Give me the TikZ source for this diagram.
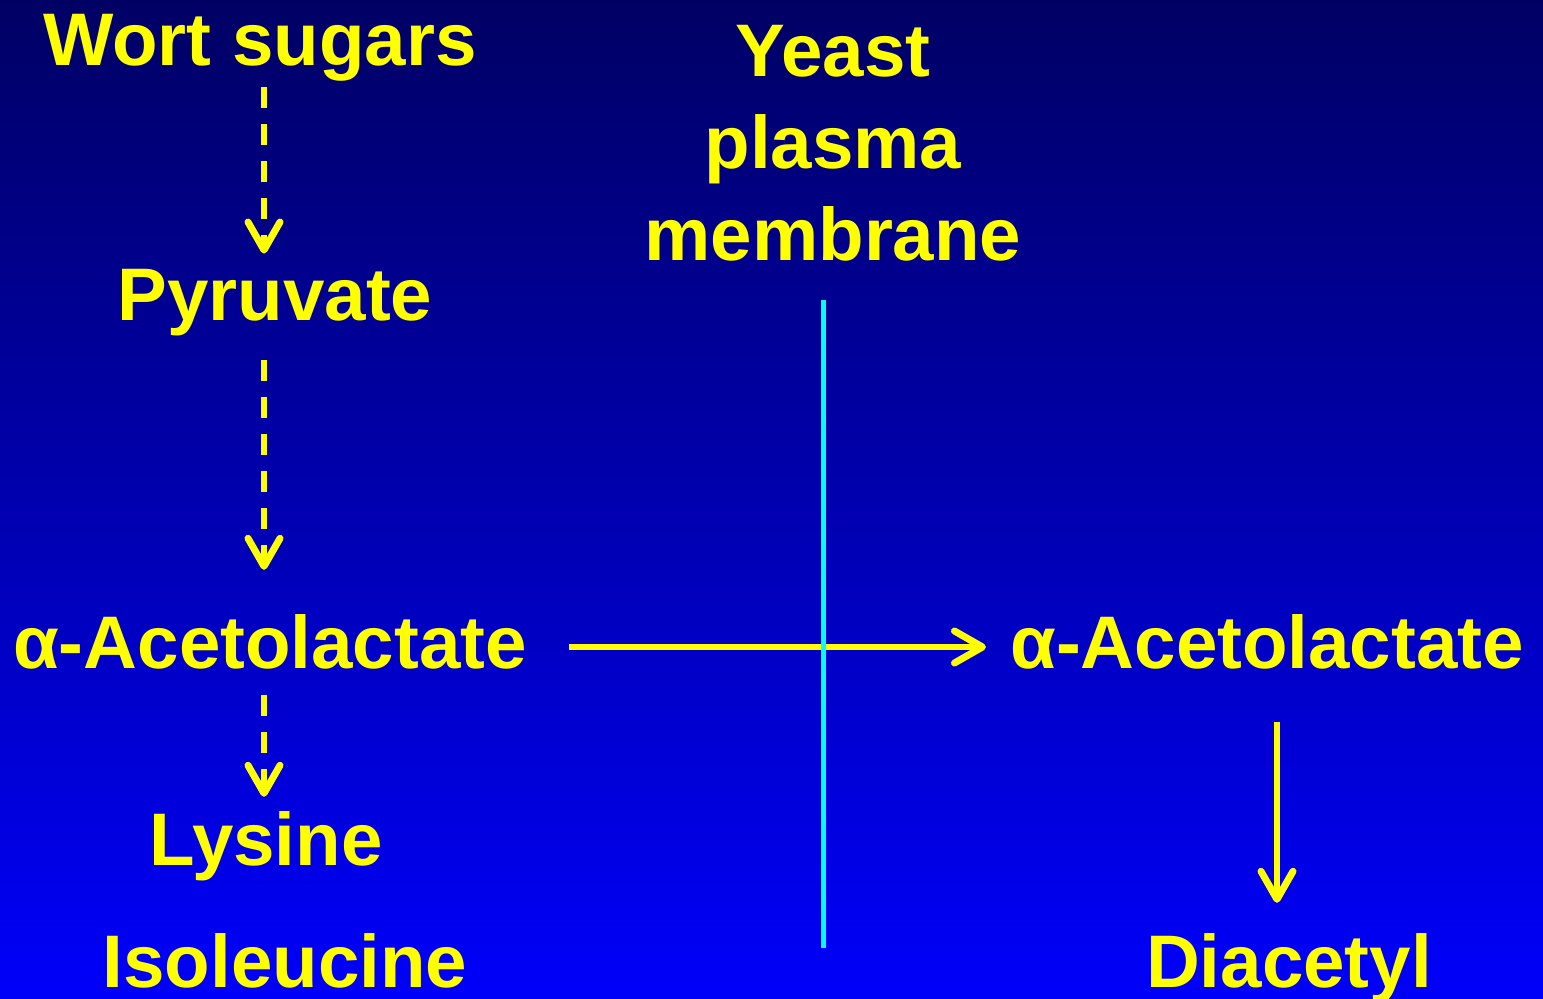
\documentclass[tikz,border=0pt]{standalone}
\usepackage{fontspec}
\setmainfont{Liberation Sans}
\usetikzlibrary{arrows.meta}
\definecolor{txtY}{RGB}{255,255,0}
\definecolor{memC}{RGB}{0,255,255}
\definecolor{bgTop}{RGB}{0,0,100}
\definecolor{bgBot}{RGB}{0,0,250}
\begin{document}
\begin{tikzpicture}[x=1pt,y=-1pt,
  lbl/.style={text=txtY,font=\fontsize{74.5}{92}\selectfont\bfseries,inner sep=0pt,anchor=base},
  conn/.style={draw=txtY,line width=5.5pt,-{Straight Barb[length=28pt,width=32pt,line width=7pt,round]}},
  dashconn/.style={conn,dash pattern=on 21pt off 16pt},
  memline/.style={draw=memC,line width=5pt}
]
\shade[top color=bgTop,bottom color=bgBot] (0,0) rectangle (1543,999);
\useasboundingbox (0,0) rectangle (1543,999);

\node[lbl] (wort) at (260,65) {Wort sugars};
\node[lbl,align=center] (yeast) at (833,260) {Yeast\\plasma\\membrane};
\node[lbl] (pyr) at (275,320) {Pyruvate};
\node[lbl] (acL) at (270,668) {α-Acetolactate};
\node[lbl] (acR) at (1267,668) {α-Acetolactate};
\node[lbl] (lys) at (266,865) {Lysine};
\node[lbl] (iso) at (285,987) {Isoleucine};
\node[lbl] (dia) at (1289,987) {Diacetyl};

\coordinate (colL) at (264,0);
\coordinate (colR) at (1277,0);
\coordinate (rowH) at (0,647);
\coordinate (memX) at (823,0);
\coordinate (memEnd) at (823,948);

\draw[dashconn,shorten <=6.5pt,shorten >=15pt] (wort.south -| colL) -- (pyr.north -| colL);
\draw[dashconn,shorten <=24.5pt,shorten >=44pt] (pyr.south -| colL) -- (acL.north -| colL);
\draw[dashconn,shorten <=26pt,shorten >=14pt] (acL.south -| colL) -- (lys.north -| colL);
\draw[conn,shorten <=42pt,shorten >=24pt] (acL.east |- rowH) -- (acR.west |- rowH);
\draw[conn,shorten <=53pt,shorten >=30pt] (acR.south -| colR) -- (dia.north -| colR);
\draw[memline,shorten <=39pt] (yeast.south -| memX) -- (memEnd);
\end{tikzpicture}
\end{document}
